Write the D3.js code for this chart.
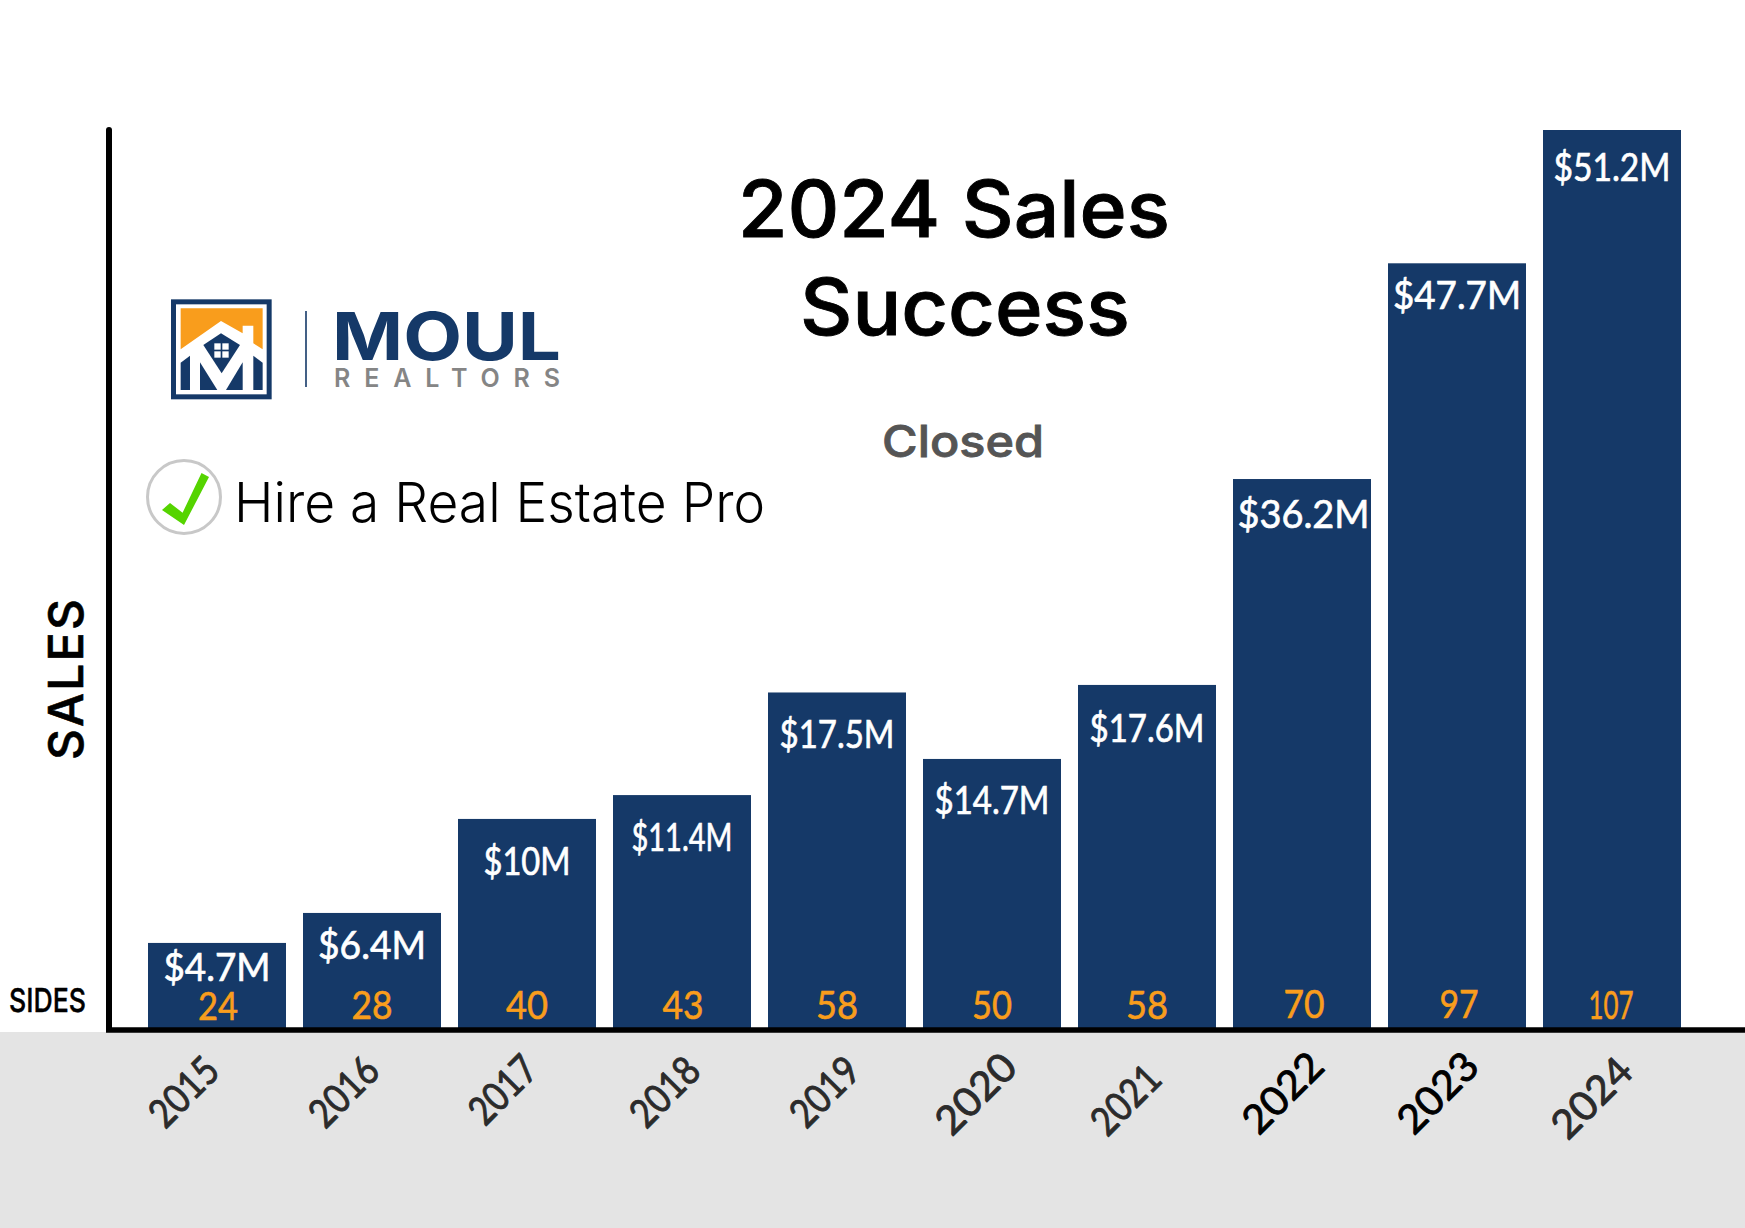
<!DOCTYPE html>
<html>
<head>
<meta charset="utf-8">
<script src="https://cdn.jsdelivr.net/npm/d3@7"></script>
<style>
html,body{margin:0;padding:0;background:#fff;}
svg{display:block;}
</style>
</head>
<body>
<div id="chart"></div>
<script>
// ---- data ----
const years = ["2015","2016","2017","2018","2019","2020","2021","2022","2023","2024"];
// bar heights as drawn in the picture (expressed on the $M axis of the tallest bar)
const barValues = [4.85,6.56,11.92,13.28,19.13,15.34,19.56,31.3,43.6,51.2];
const salesLabels = ["$4.7M","$6.4M","$10M","$11.4M","$17.5M","$14.7M","$17.6M","$36.2M","$47.7M","$51.2M"];
const sides = ["24","28","40","43","58","50","58","70","97","107"];

// ---- layout tables (not data) ----
const W = 1745, H = 1228;
const salesLabelDrop = [38,46,56,56,56,55,57,49,46,51];
const salesLabelWidth = [107,108,87,101,115,115,115,132,128,117];
const salesLabelDx = [0,0,0,0,0,0,0,1.5,0,0];
const sidesBase = [1020,1019,1019,1019,1019,1019,1019,1018,1018,1019];
const sidesWidth = [40,41,42,41,42,40,42,41,39,45];
const sidesDx = [1,0,0,1,0,0,0,2,2,-1];
const yearDx = [-34,-29,-25,-18,-13,-17,-22,-20,-20,-21];
const yearCy = [1091,1091,1089,1091,1091,1093,1099,1092,1092,1097];
const yearWidth = [80,80,78,80,80,96,80,96,96,96];

const navy = "#153968", orange = "#f99d1c";
const fontHead = "Inter, sans-serif", fontNum = "Lato, sans-serif";

const svg = d3.select("#chart").append("svg").attr("width",W).attr("height",H).attr("viewBox",`0 0 ${W} ${H}`);

svg.append("rect").attr("width",W).attr("height",H).attr("fill","#fff");
svg.append("rect").attr("x",0).attr("y",1032).attr("width",W).attr("height",H-1032).attr("fill","#e4e4e4");

const x = d3.scaleBand().domain(years).range([148,148+155*10-17]).paddingInner(17/155).paddingOuter(0);
const y = d3.scaleLinear().domain([0,51.2]).range([1028,130]);

// bars
svg.selectAll("rect.bar").data(years).join("rect").attr("class","bar")
  .attr("x",d=>x(d)).attr("width",x.bandwidth())
  .attr("y",(d,i)=>y(barValues[i])).attr("height",(d,i)=>y(0)-y(barValues[i]))
  .attr("fill",navy);

// axes
const yAxis = d3.axisLeft(y).tickValues([]).tickSize(0);
const yG = svg.append("g").attr("transform","translate(109,0)").call(yAxis);
yG.select(".domain").attr("d","M0,130V1029").attr("stroke","#000").attr("stroke-width",6).attr("stroke-linecap","round").attr("fill","none");

const xAxis = d3.axisBottom(x).tickSize(0).tickPadding(0);
const xG = svg.append("g").attr("transform","translate(0,1030)").call(xAxis);
xG.select(".domain").attr("d",`M106,0H${W}`).attr("stroke","#000").attr("stroke-width",5.5).attr("fill","none");
xG.selectAll(".tick").attr("transform",null);
xG.selectAll(".tick text")
  .attr("text-anchor","middle").attr("dy",null).attr("y",null)
  .attr("transform",(d,i)=>`translate(${x(d)+x.bandwidth()/2+yearDx[i]},${yearCy[i]-1030}) rotate(-45)`)
  .attr("dominant-baseline","central")
  .attr("textLength",(d,i)=>yearWidth[i]).attr("lengthAdjust","spacingAndGlyphs")
  .style("font-family",fontNum).style("font-size","40px").style("font-weight",400)
  .attr("fill",(d,i)=>(i===7||i===8)?"#000":"#2b2b2b")
  .attr("stroke",(d,i)=>(i===7||i===8)?"#000":"#2b2b2b").attr("stroke-width",0.9);

// sales labels
svg.selectAll("text.sales").data(years).join("text").attr("class","sales")
  .attr("x",(d,i)=>x(d)+x.bandwidth()/2+salesLabelDx[i])
  .attr("y",(d,i)=>y(barValues[i])+salesLabelDrop[i])
  .attr("text-anchor","middle").attr("fill","#fff").attr("stroke","#fff").attr("stroke-width",0.7)
  .attr("textLength",(d,i)=>salesLabelWidth[i]).attr("lengthAdjust","spacingAndGlyphs")
  .style("font-family",fontNum).style("font-size","39px").style("font-weight",400)
  .text((d,i)=>salesLabels[i]);

// sides labels
svg.selectAll("text.sides").data(years).join("text").attr("class","sides")
  .attr("x",(d,i)=>x(d)+x.bandwidth()/2+sidesDx[i])
  .attr("y",(d,i)=>sidesBase[i])
  .attr("text-anchor","middle").attr("fill",orange).attr("stroke",orange).attr("stroke-width",0.6)
  .attr("textLength",(d,i)=>sidesWidth[i]).attr("lengthAdjust","spacingAndGlyphs")
  .style("font-family",fontNum).style("font-size","39px").style("font-weight",400)
  .text((d,i)=>sides[i]);

function fitted(txt,x0,base,len,size,weight,fill,family){
  return svg.append("text").attr("x",x0).attr("y",base).attr("textLength",len).attr("lengthAdjust","spacingAndGlyphs")
    .style("font-family",family||fontHead).style("font-size",size+"px").style("font-weight",weight).attr("fill",fill).text(txt);
}
// title block
fitted("2024 Sales",738,237,432,78,500,"#000").attr("stroke","#000").attr("stroke-width",0.9);
fitted("Success",800,335,330,78,500,"#000").attr("stroke","#000").attr("stroke-width",0.9);
fitted("Closed",882,457,162,44,500,"#555").attr("stroke","#555").attr("stroke-width",0.8);

// side titles
fitted("SIDES",9,1012,77,33,500,"#000").attr("stroke","#000").attr("stroke-width",0.4);
svg.append("text").attr("transform","translate(83,760) rotate(-90)").attr("textLength",161).attr("lengthAdjust","spacing")
  .style("font-family",fontHead).style("font-size","48px").style("font-weight",500).attr("fill","#000")
  .attr("stroke","#000").attr("stroke-width",0.6).text("SALES");

// logo mark
const logo = svg.append("g").attr("transform","translate(150,290) scale(0.3333)");
logo.append("rect").attr("x",63).attr("y",28).attr("width",302).attr("height",300).attr("fill",navy);
logo.append("rect").attr("x",78).attr("y",43).attr("width",272).attr("height",270).attr("fill","#fff");
logo.append("polygon").attr("points","92,55 338,55 338,178 310,160 310,107 278,107 278,130 213,93 92,178").attr("fill",orange);
logo.append("polygon").attr("points","92,218 120,197 120,300 92,300").attr("fill",navy);
logo.append("polygon").attr("points","310,197 338,218 338,300 310,300").attr("fill",navy);
logo.append("polygon").attr("points","150,217 202,300 150,300").attr("fill",navy);
logo.append("polygon").attr("points","278,217 278,300 228,300").attr("fill",navy);
logo.append("polygon").attr("points","213,130 270,165 215,250 160,165").attr("fill",navy);
[[193,160],[217,160],[193,184],[217,184]].forEach(p=>logo.append("rect").attr("x",p[0]).attr("y",p[1]).attr("width",19).attr("height",19).attr("fill","#fff"));

svg.append("line").attr("x1",306).attr("x2",306).attr("y1",311).attr("y2",387).attr("stroke",navy).attr("stroke-width",1.6);
fitted("MOUL",332,360,229,66,700,navy);
fitted("REALTORS",334,387,226,25,600,"#858585").attr("lengthAdjust","spacing");

// check badge
svg.append("circle").attr("cx",184).attr("cy",497).attr("r",36.5).attr("fill","#fff").attr("stroke","#c8c8c8").attr("stroke-width",3);
svg.append("polygon").attr("points","162,510 170,503 182.6,512.7 201.5,473 209,477 184,525").attr("fill","#55d400");
fitted("Hire a Real Estate Pro",234,521.7,531,55,300,"#000");
</script>
</body>
</html>
